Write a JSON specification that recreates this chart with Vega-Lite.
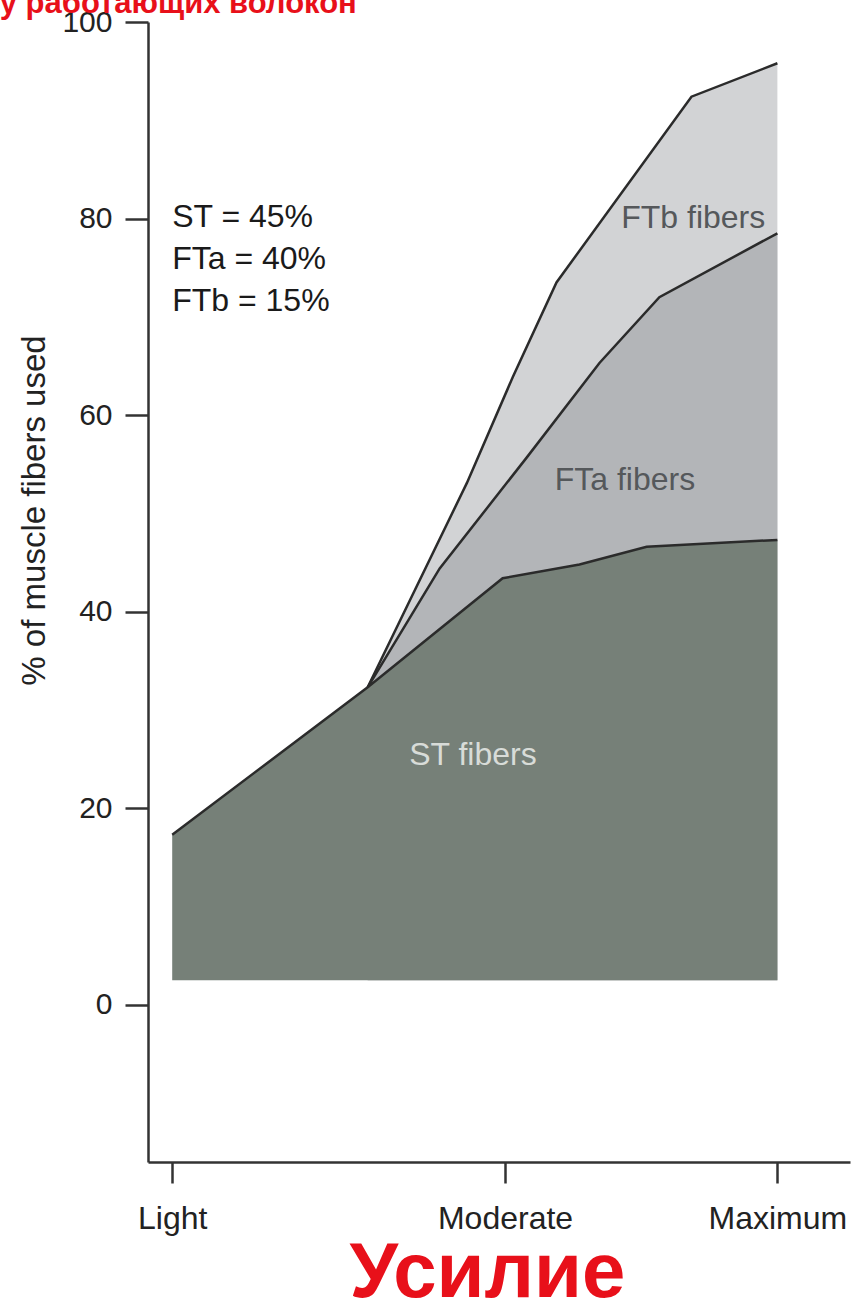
{
  "$schema": "https://vega.github.io/schema/vega-lite/v6.json",
  "width": 702,
  "height": 1140,
  "autosize": {"type": "none"},
  "padding": {"left": 148, "top": 22, "right": 4, "bottom": 147},
  "background": "white",
  "config": {"view": {"stroke": null}, "font": "Liberation Sans"},
  "datasets": {
    "fibers": [
      {"series": "FTb", "x": 32.3, "y": 32.3},
      {"series": "FTb", "x": 48.7, "y": 53.1},
      {"series": "FTb", "x": 56.3, "y": 63.9},
      {"series": "FTb", "x": 63.5, "y": 73.5},
      {"series": "FTb", "x": 85.8, "y": 92.4},
      {"series": "FTb", "x": 100, "y": 95.8},
      {"series": "FTa", "x": 32.3, "y": 32.3},
      {"series": "FTa", "x": 44.2, "y": 44.4},
      {"series": "FTa", "x": 58.6, "y": 55.7},
      {"series": "FTa", "x": 70.6, "y": 65.3},
      {"series": "FTa", "x": 80.5, "y": 72.0},
      {"series": "FTa", "x": 100, "y": 78.5},
      {"series": "ST", "x": 0, "y": 17.3},
      {"series": "ST", "x": 32.3, "y": 32.3},
      {"series": "ST", "x": 54.6, "y": 43.4},
      {"series": "ST", "x": 67.3, "y": 44.8},
      {"series": "ST", "x": 78.4, "y": 46.6},
      {"series": "ST", "x": 100, "y": 47.3}
    ],
    "labels": [
      {"kind": "title", "x": -28.5, "y": 100.9, "text": "у работающих волокон"},
      {"kind": "note", "x": 0, "y": 79.1, "text": "ST = 45%"},
      {"kind": "note", "x": 0, "y": 74.9, "text": "FTa = 40%"},
      {"kind": "note", "x": 0, "y": 70.6, "text": "FTb = 15%"},
      {"kind": "dark", "x": 86.1, "y": 79.0, "text": "FTb fibers"},
      {"kind": "dark", "x": 74.8, "y": 52.4, "text": "FTa fibers"},
      {"kind": "light", "x": 49.7, "y": 24.4, "text": "ST fibers"}
    ]
  },
  "encoding": {
    "x": {
      "field": "x",
      "type": "quantitative",
      "scale": {"domain": [-4, 112], "nice": false, "zero": false},
      "axis": {
        "title": "Усилие",
        "values": [0, 55, 100],
        "labelExpr": "datum.value == 0 ? 'Light' : datum.value == 55 ? 'Moderate' : 'Maximum'",
        "grid": false,
        "tickSize": 21,
        "tickWidth": 2.5,
        "tickColor": "#333333",
        "domainColor": "#333333",
        "domainWidth": 2.5,
        "labelFont": "Liberation Sans",
        "labelFontSize": 32,
        "labelColor": "#222222",
        "labelPadding": 20,
        "labelFlush": false,
        "labelOverlap": false,
        "titleFont": "Liberation Sans",
        "titleFontSize": 78,
        "titleFontWeight": "bold",
        "titleColor": "#e8101a",
        "titleX": 339,
        "titleY": 134,
        "titleBaseline": "alphabetic",
        "titleAlign": "center"
      }
    },
    "y": {
      "field": "y",
      "type": "quantitative",
      "scale": {"domain": [-16, 100], "nice": false, "zero": false},
      "axis": {
        "title": "% of muscle fibers used",
        "values": [0, 20, 40, 60, 80, 100],
        "grid": false,
        "tickSize": 23,
        "tickWidth": 2.5,
        "tickColor": "#333333",
        "domainColor": "#333333",
        "domainWidth": 2.5,
        "labelFont": "Liberation Sans",
        "labelFontSize": 30,
        "labelColor": "#222222",
        "labelPadding": 13,
        "labelFlush": false,
        "labelOverlap": false,
        "titleFont": "Liberation Sans",
        "titleFontSize": 33,
        "titleFontWeight": "normal",
        "titleColor": "#222222",
        "titleAngle": 270,
        "titleX": -104,
        "titleY": 488,
        "titleBaseline": "alphabetic",
        "titleAlign": "center"
      }
    }
  },
  "layer": [
    {
      "data": {"name": "fibers"},
      "transform": [{"filter": "datum.series == 'FTb'"}],
      "mark": {"type": "area", "color": "#d2d3d5"},
      "encoding": {"y2": {"datum": 2.5}}
    },
    {
      "data": {"name": "fibers"},
      "transform": [{"filter": "datum.series == 'FTa'"}],
      "mark": {"type": "area", "color": "#b3b5b8"},
      "encoding": {"y2": {"datum": 2.5}}
    },
    {
      "data": {"name": "fibers"},
      "transform": [{"filter": "datum.series == 'ST'"}],
      "mark": {"type": "area", "color": "#768078"},
      "encoding": {"y2": {"datum": 2.5}}
    },
    {
      "data": {"name": "fibers"},
      "mark": {"type": "line", "color": "#2b2b2b", "strokeWidth": 2.5},
      "encoding": {"detail": {"field": "series"}}
    },
    {
      "data": {"name": "labels"},
      "transform": [{"filter": "datum.kind == 'title'"}],
      "mark": {"type": "text", "align": "left", "baseline": "alphabetic", "fontSize": 31, "fontWeight": "bold", "font": "Liberation Sans", "color": "#e8101a"},
      "encoding": {"text": {"field": "text"}}
    },
    {
      "data": {"name": "labels"},
      "transform": [{"filter": "datum.kind == 'note'"}],
      "mark": {"type": "text", "align": "left", "baseline": "alphabetic", "fontSize": 32, "font": "Liberation Sans", "color": "#1a1a1a"},
      "encoding": {"text": {"field": "text"}}
    },
    {
      "data": {"name": "labels"},
      "transform": [{"filter": "datum.kind == 'dark'"}],
      "mark": {"type": "text", "align": "center", "baseline": "alphabetic", "fontSize": 32, "font": "Liberation Sans", "color": "#55585b"},
      "encoding": {"text": {"field": "text"}}
    },
    {
      "data": {"name": "labels"},
      "transform": [{"filter": "datum.kind == 'light'"}],
      "mark": {"type": "text", "align": "center", "baseline": "alphabetic", "fontSize": 32, "font": "Liberation Sans", "color": "#d8dcd8"},
      "encoding": {"text": {"field": "text"}}
    }
  ]
}
